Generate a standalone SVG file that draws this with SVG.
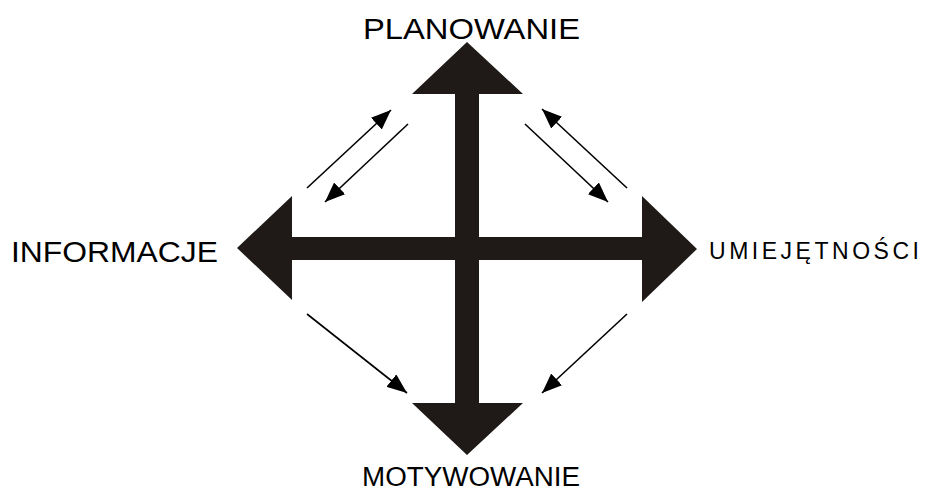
<svg xmlns="http://www.w3.org/2000/svg" width="927" height="492" viewBox="0 0 927 492">
<defs>
<style>
.big{fill:#1f1a17;}
.thin{stroke:#000;stroke-width:1.6;fill:none;marker-end:url(#ah);}
.lbl{font-family:"Liberation Sans",Arial,sans-serif;fill:#000;}
</style>
<marker id="ah" viewBox="0 0 20 16" refX="20" refY="8" markerWidth="20" markerHeight="16" markerUnits="userSpaceOnUse" orient="auto">
<path d="M0,0 L20,8 L0,16 Z" fill="#000"/>
</marker>
</defs>
<rect width="927" height="492" fill="#fff"/>
<g id="cross">
<path class="big" d="M467,42 L523,94 L479,94 L479,237 L642,237 L642,196 L697,249 L642,302 L642,260 L479,260 L479,403 L523,403 L467,455 L412,403 L455,403 L455,260 L292,260 L292,300 L237,248 L292,196 L292,237 L455,237 L455,94 L412,94 Z"/>
</g>
<g id="connectors">
<line class="thin" x1="307" y1="188" x2="391" y2="110"/>
<line class="thin" x1="408" y1="124" x2="325" y2="202"/>
<line class="thin" x1="525" y1="124" x2="608" y2="202"/>
<line class="thin" x1="627" y1="188" x2="542" y2="109"/>
<line class="thin" x1="307" y1="314" x2="407" y2="393"/>
<line class="thin" x1="627" y1="314" x2="542" y2="393"/>
</g>
<g id="planowanie"><text class="lbl" x="363" y="39" font-size="29" textLength="217" lengthAdjust="spacingAndGlyphs">PLANOWANIE</text></g>
<g id="informacje"><text class="lbl" x="11" y="262" font-size="29" textLength="207" lengthAdjust="spacingAndGlyphs">INFORMACJE</text></g>
<g id="motywowanie"><text class="lbl" x="362" y="486" font-size="27" textLength="218" lengthAdjust="spacingAndGlyphs">MOTYWOWANIE</text></g>
<g id="umiejetnosci"><text class="lbl" x="709" y="259" font-size="23" textLength="210" lengthAdjust="spacing">UMIEJĘTNOŚCI</text></g>
</svg>
